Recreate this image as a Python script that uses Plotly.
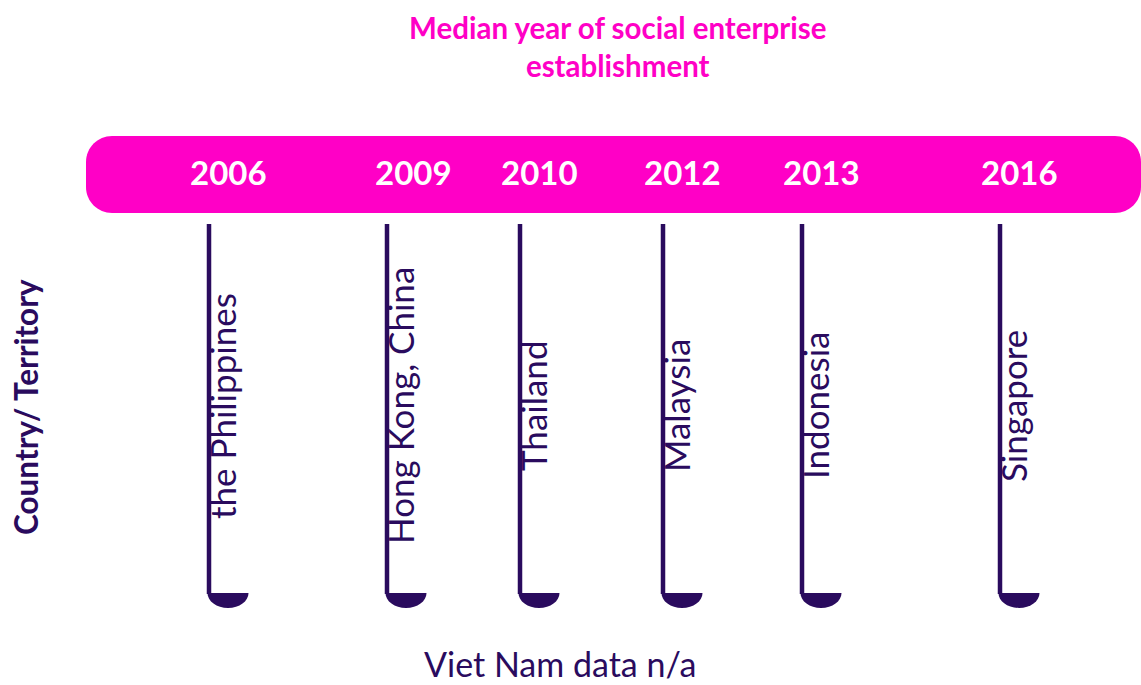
import plotly.graph_objects as go

# ---- data ----
countries = ["the Philippines", "Hong Kong, China", "Thailand", "Malaysia", "Indonesia", "Singapore"]
median_years = [2006, 2009, 2010, 2012, 2013, 2016]
title_text = "Median year of social enterprise<br>establishment"
axis_title = "Country/ Territory"
footnote = "Viet Nam data n/a"

# ---- layout (canvas in pixel units) ----
W, H = 1141, 685
slot_x = [228, 406, 539, 682, 821, 1019]      # centre of each timeline slot
year_nudge = [0, 7, 0, 0, 0, 0]                # small horizontal tweaks of year labels
stem_offset = -19                              # stem sits left of slot centre
stem_top, stem_bottom = 224, 594
cap_half_w, cap_depth = 20.5, 15
band_x0, band_x1, band_y0, band_y1, band_r = 86, 1141, 136, 213, 26

PINK = "#FF00C6"
PURPLE = "#2A0B5E"
FONT = "Lato"

fig = go.Figure()

# timeline band with rounded ends
def rounded_rect(x0, y0, x1, y1, r):
    k = 0.5523 * r
    return (f"M {x0 + r},{y0} L {x1 - r},{y0} "
            f"C {x1 - r + k},{y0} {x1},{y0 + r - k} {x1},{y0 + r} "
            f"L {x1},{y1 - r} "
            f"C {x1},{y1 - r + k} {x1 - r + k},{y1} {x1 - r},{y1} "
            f"L {x0 + r},{y1} "
            f"C {x0 + r - k},{y1} {x0},{y1 - r + k} {x0},{y1 - r} "
            f"L {x0},{y0 + r} "
            f"C {x0},{y0 + r - k} {x0 + r - k},{y0} {x0 + r},{y0} Z")

shapes = [dict(type="path", path=rounded_rect(band_x0, band_y0, band_x1, band_y1, band_r),
               xref="x", yref="y", fillcolor=PINK, line=dict(width=0), layer="below")]

annotations = []
for cx, nudge, country, year in zip(slot_x, year_nudge, countries, median_years):
    sx = cx + stem_offset
    # stem
    fig.add_trace(go.Scatter(x=[sx, sx], y=[stem_top, stem_bottom], mode="lines",
                             line=dict(color=PURPLE, width=4.5), hoverinfo="skip",
                             showlegend=False))
    # half-disc foot
    x0, x1 = cx - cap_half_w, cx + cap_half_w
    y0, y1 = stem_bottom - 1, stem_bottom - 1 + cap_depth
    kx, ky = 0.5523 * cap_half_w, 0.5523 * cap_depth
    foot = (f"M {x0},{y0} C {x0},{y0 + ky} {cx - kx},{y1} {cx},{y1} "
            f"C {cx + kx},{y1} {x1},{y0 + ky} {x1},{y0} Z")
    shapes.append(dict(type="path", path=foot, xref="x", yref="y",
                       fillcolor=PURPLE, line=dict(width=0)))
    # year label in the band
    annotations.append(dict(x=cx + nudge, y=(band_y0 + band_y1) / 2 - 3, xref="x", yref="y",
                            text=f"<b>{year}</b>", showarrow=False,
                            font=dict(family=FONT, size=33, color="white"),
                            xanchor="center", yanchor="middle"))
    # country label along the stem
    annotations.append(dict(x=sx - 10, y=406, xref="x", yref="y", text=country,
                            showarrow=False, textangle=-90,
                            font=dict(family=FONT, size=35, color=PURPLE),
                            xanchor="left", yanchor="middle"))

annotations.append(dict(x=617, y=46, xref="x", yref="y", text=f"<b>{title_text}</b>",
                        showarrow=False, font=dict(family=FONT, size=29.5, color=PINK),
                        xanchor="center", yanchor="middle"))
annotations.append(dict(x=26, y=407, xref="x", yref="y", text=f"<b>{axis_title}</b>",
                        showarrow=False, textangle=-90,
                        font=dict(family=FONT, size=31.5, color=PURPLE),
                        xanchor="center", yanchor="middle"))
annotations.append(dict(x=560, y=H, xref="x", yref="y", text=footnote,
                        showarrow=False, font=dict(family=FONT, size=34, color=PURPLE),
                        xanchor="center", yanchor="bottom", borderpad=0))

fig.update_layout(
    width=W, height=H,
    margin=dict(l=0, r=0, t=0, b=0),
    paper_bgcolor="white", plot_bgcolor="white",
    xaxis=dict(range=[0, W], visible=False, fixedrange=True),
    yaxis=dict(range=[H, 0], visible=False, fixedrange=True),
    shapes=shapes, annotations=annotations,
    showlegend=False,
)

fig.write_html("out.html")
